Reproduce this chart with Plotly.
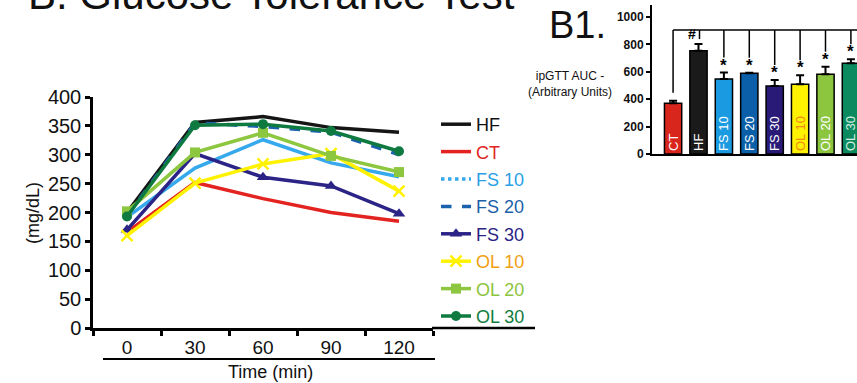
import plotly.graph_objects as go

W, H = 857, 383

# ---------------- data: glucose tolerance test ----------------
time_labels = ["0", "30", "60", "90", "120"]
hf = [200, 356, 366, 347, 339]
ct = [166, 252, 224, 200, 185]
fs10 = [192, 277, 326, 286, 262]
fs20 = [194, 355, 349, 339, 300]
fs30 = [170, 302, 261, 246, 198]
ol10 = [160, 251, 284, 302, 237]
ol20 = [202, 304, 338, 298, 270]
ol30 = [193, 351, 353, 341, 306]
y_ticks = [0, 50, 100, 150, 200, 250, 300, 350, 400]

# ---------------- data: AUC bars ----------------
bar_groups = ["CT", "HF", "FS 10", "FS 20", "FS 30", "OL 10", "OL 20", "OL 30"]
auc_mean = [370, 754, 547, 589, 496, 509, 582, 662]
auc_err = [18, 50, 48, 4, 44, 66, 55, 30]
auc_marks = ["", "#", "*", "*", "*", "*", "*", "*"]
bar_ticks = [0, 200, 400, 600, 800, 1000]

FONT = "Arial, Liberation Sans, sans-serif"

def px_x(p):
    return p / W

def px_y(p):
    return (H - p) / H

series = [
    ("HF", hf, dict(color="#151515", width=3.5), None, "#111111"),
    ("CT", ct, dict(color="#e3231f", width=3.5), None, "#e0251f"),
    ("FS 10", fs10, dict(color="#35a9ec", width=3.5), None, "#2aa0e6"),
    ("FS 20", fs20, dict(color="#1b62ae", width=3.5, dash="dash"), None, "#1a5fa8"),
    ("FS 30", fs30, dict(color="#2b2386", width=3.5),
     dict(symbol="triangle-up", size=11, color="#2b2386"), "#2b2386"),
    ("OL 10", ol10, dict(color="#fff200", width=3.5),
     dict(symbol="x-thin", size=11, line=dict(color="#fff200", width=2.5)), "#f0a010"),
    ("OL 20", ol20, dict(color="#8dc63f", width=3.5),
     dict(symbol="square", size=10, color="#8dc63f"), "#8cc43c"),
    ("OL 30", ol30, dict(color="#0e7a40", width=3.5),
     dict(symbol="circle", size=10, color="#0e7a40"), "#127c40"),
]

fig = go.Figure()
for name, vals, line, marker, tcolor in series:
    label = f"<span style='color:{tcolor}'>{name}</span>"
    grp = "g_" + name
    if name == "FS 10":
        # legend sample drawn dotted as in the original figure
        fig.add_trace(go.Scatter(
            x=[None], y=[None], mode="lines", name=label, legendgroup=grp,
            line=dict(color=line["color"], width=3.5, dash="dot"),
            xaxis="x", yaxis="y"))
        fig.add_trace(go.Scatter(
            x=time_labels, y=vals, mode="lines", name=label, showlegend=False,
            legendgroup=grp, line=line, xaxis="x", yaxis="y"))
        continue
    fig.add_trace(go.Scatter(
        x=time_labels, y=vals, mode="lines+markers" if marker else "lines",
        name=label, legendgroup=grp, line=line, marker=marker,
        xaxis="x", yaxis="y"))

bar_colors = ["#d9261c", "#1a1a1a", "#1a9ae0", "#0b5fa8", "#2a1a78",
              "#fff200", "#8cc63f", "#0b8a60"]
bar_text_colors = ["white", "white", "white", "white", "white",
                   "#f08a10", "white", "#d8f0e0"]
fig.add_trace(go.Bar(
    x=list(range(len(bar_groups))), y=auc_mean, width=0.68,
    marker=dict(color=bar_colors, line=dict(color="black", width=1.5)),
    error_y=dict(type="data", symmetric=False, array=auc_err,
                 arrayminus=[0] * len(auc_err), color="black",
                 thickness=2, width=4),
    text=bar_groups, textangle=-90, textposition="inside",
    insidetextanchor="start", constraintext="none",
    textfont=dict(color=bar_text_colors, size=13, family=FONT),
    showlegend=False, xaxis="x2", yaxis="y2", hoverinfo="skip"))

# significance marks and bracket
bracket_y = 905
shapes = []
n = len(bar_groups)
shapes.append(dict(type="line", xref="x2", yref="y2", x0=0, x1=n + 0.5,
                   y0=bracket_y, y1=bracket_y, line=dict(color="black", width=1.5)))
annotations = []
for i, (m, e, mk) in enumerate(zip(auc_mean, auc_err, auc_marks)):
    top = m + e
    if mk == "":
        end = top + 60
    elif mk == "#":
        end = top + 35
    else:
        end = top + 110
    xoff = 0.04 if mk == "#" else 0
    shapes.append(dict(type="line", xref="x2", yref="y2",
                       x0=i + xoff, x1=i + xoff,
                       y0=bracket_y, y1=end, line=dict(color="black", width=1.5)))
    if mk:
        annotations.append(dict(
            x=i, y=top, xref="x2", yref="y2", text=f"<b>{mk}</b>", showarrow=False,
            yanchor="bottom", yshift=(0 if mk == "#" else -4),
            xshift=(-6 if mk == "#" else 0),
            font=dict(size=(14 if mk == "#" else 17), color="#000000", family=FONT)))

# extra axis line segments / underline
shapes.append(dict(type="line", xref="paper", yref="paper",
                   x0=px_x(432), x1=px_x(535), y0=px_y(328), y1=px_y(328),
                   line=dict(color="black", width=2.5)))
shapes.append(dict(type="line", xref="paper", yref="paper",
                   x0=px_x(103), x1=px_x(435), y0=px_y(359), y1=px_y(359),
                   line=dict(color="black", width=2)))

annotations += [
    dict(text="B. Glucose Tolerance Test", x=px_x(26), y=px_y(20), xref="paper",
         yref="paper", xanchor="left", yanchor="bottom", showarrow=False,
         font=dict(size=42, color="#111", family=FONT)),
    dict(text="B1.", x=px_x(547), y=px_y(48), xref="paper", yref="paper",
         xanchor="left", yanchor="bottom", showarrow=False,
         font=dict(size=38, color="#111", family=FONT)),
    dict(text="ipGTT AUC -<br>(Arbitrary Units)", x=px_x(570), y=px_y(84),
         xref="paper", yref="paper", xanchor="center", yanchor="middle",
         showarrow=False, font=dict(size=12, color="#111", family=FONT)),
    dict(text="(mg/dL)", x=px_x(33), y=px_y(213), xref="paper", yref="paper",
         xanchor="center", yanchor="middle", textangle=-90, showarrow=False,
         font=dict(size=18, color="#111", family=FONT)),
    dict(text="Time (min)", x=px_x(270), y=px_y(372), xref="paper", yref="paper",
         xanchor="center", yanchor="middle", showarrow=False,
         font=dict(size=18, color="#111", family=FONT)),
]

fig.update_layout(
    width=W, height=H, margin=dict(l=0, r=0, t=0, b=0, autoexpand=False),
    paper_bgcolor="white", plot_bgcolor="white",
    font=dict(family=FONT, color="#111"),
    showlegend=True,
    legend=dict(x=px_x(436), y=px_y(106), xanchor="left", yanchor="top",
                font=dict(size=18, family=FONT), bgcolor="rgba(0,0,0,0)",
                itemwidth=30, tracegroupgap=1),
    xaxis=dict(domain=[px_x(93), px_x(433)], type="category",
               categoryorder="array", categoryarray=time_labels,
               range=[-0.5, 4.5], tickson="boundaries", ticks="outside",
               ticklen=5, tickwidth=2.5, tickcolor="black",
               showline=True, linecolor="black", linewidth=2.5,
               showgrid=False, zeroline=False, automargin=False,
               tickfont=dict(size=19, color="#111"), anchor="y"),
    yaxis=dict(domain=[px_y(328), px_y(97)], range=[0, 400], tickvals=y_ticks,
               ticks="outside", ticklen=5, tickwidth=2.5, tickcolor="black",
               showline=True, linecolor="black", linewidth=2.5,
               showgrid=False, zeroline=False, automargin=False,
               tickfont=dict(size=20, color="#111"), anchor="x"),
    xaxis2=dict(domain=[px_x(652), 1.0], range=[-0.83, 7.24],
                showticklabels=False, ticks="", showline=True,
                linecolor="black", linewidth=2, showgrid=False,
                zeroline=False, automargin=False, anchor="y2"),
    yaxis2=dict(domain=[px_y(154), px_y(5)], range=[0, 1088], tickvals=bar_ticks,
                ticks="outside", ticklen=4, tickwidth=2, tickcolor="black",
                showline=True, linecolor="black", linewidth=2, showgrid=False,
                zeroline=False, automargin=False,
                tickfont=dict(size=12, color="#111", weight="bold"),
                anchor="x2"),
    shapes=shapes, annotations=annotations,
)

fig.write_html("out.html", config={"displayModeBar": False},
               post_script="document.body.style.margin='0';document.body.style.overflow='hidden';")
